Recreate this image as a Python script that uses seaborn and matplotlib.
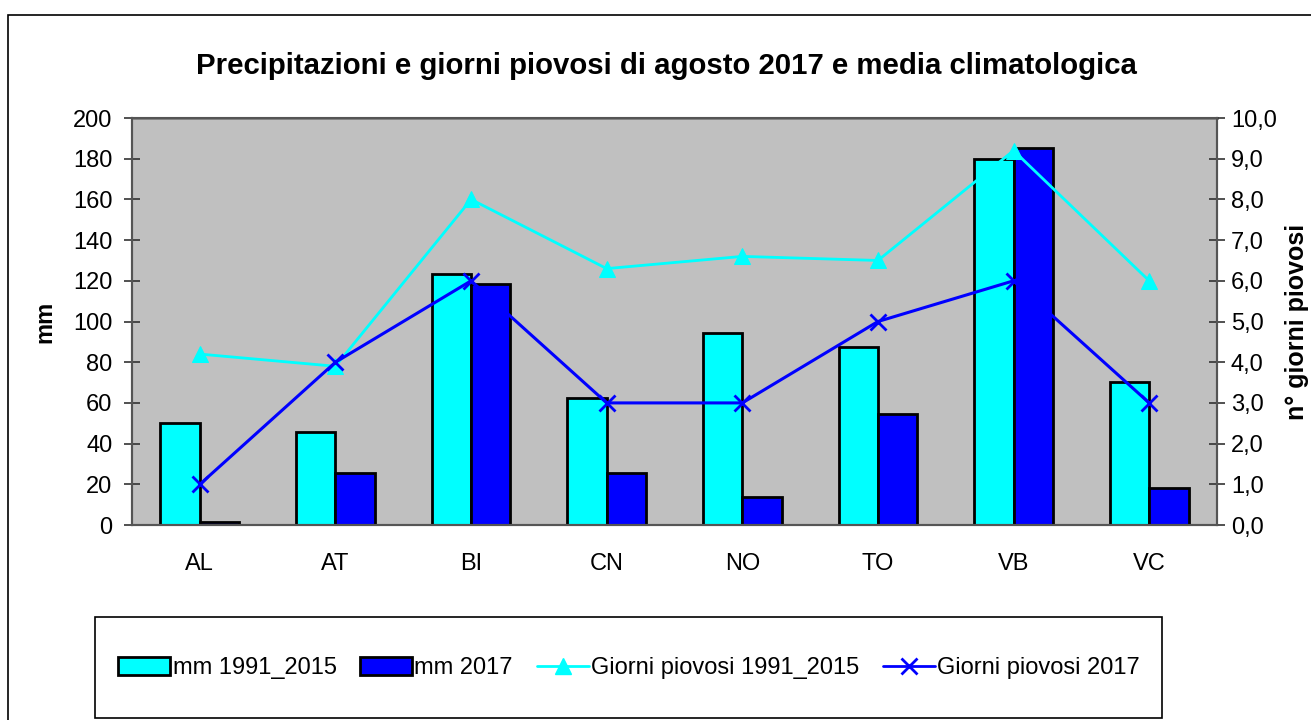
import numpy as np
import pandas as pd
import seaborn as sns
from matplotlib import pyplot as plt
from matplotlib.patches import Patch, Rectangle
from matplotlib.lines import Line2D

provinces = ['AL', 'AT', 'BI', 'CN', 'NO', 'TO', 'VB', 'VC']
mm_clima = [50.0, 45.9, 123.2, 62.6, 94.5, 87.6, 179.7, 70.1]
mm_2017 = [1.6, 25.4, 118.3, 25.4, 13.6, 54.4, 185.1, 18.0]
giorni_clima = [4.2, 3.9, 8.0, 6.3, 6.6, 6.5, 9.2, 6.0]
giorni_2017 = [1, 4, 6, 3, 3, 5, 6, 3]
series_names = ['mm 1991_2015', 'mm 2017', 'Giorni piovosi 1991_2015', 'Giorni piovosi 2017']

CYAN = '#00FFFF'
BLUE = '#0000FF'


def plot():
    sns.set_style('white')
    plt.rcParams['font.family'] = ['Liberation Sans', 'DejaVu Sans']
    plt.rcParams['text.color'] = 'black'
    plt.rcParams['axes.labelcolor'] = 'black'
    plt.rcParams['xtick.color'] = 'black'
    plt.rcParams['ytick.color'] = 'black'

    bars = pd.DataFrame({
        'prov': provinces * 2,
        'mm': mm_clima + mm_2017,
        'serie': [series_names[0]] * len(provinces) + [series_names[1]] * len(provinces),
    })

    fig = plt.figure(figsize=(13.11, 7.2), dpi=100)
    ax = fig.add_axes([0.1007, 0.2708, 0.8276, 0.5653])
    ax.set_facecolor('#C0C0C0')

    sns.barplot(data=bars, x='prov', y='mm', hue='serie', palette=[CYAN, BLUE],
                width=0.58, edgecolor='black', linewidth=2, saturation=1,
                legend=False, ax=ax, zorder=2)

    ax.set_ylim(0, 200)
    ax.set_xlim(-0.5, len(provinces) - 0.5)
    ax.set_yticks(np.arange(0, 201, 20))
    ax.set_xticks(range(len(provinces)))
    ax.set_xticklabels(provinces)
    ax.set_xticks(np.arange(-0.5, len(provinces), 1), minor=True)
    ax.tick_params(axis='x', which='major', length=0, pad=20, labelsize=17)
    ax.tick_params(axis='x', which='minor', length=7, width=1.2, direction='out', color='#333333')
    ax.tick_params(axis='y', length=12, width=1.2, direction='inout', labelsize=17, color='#333333', pad=8)
    ax.set_xlabel('')
    ax.set_ylabel('mm', fontsize=17, fontweight='bold', labelpad=12)

    ax2 = ax.twinx()
    x = np.arange(len(provinces))
    sns.lineplot(x=x, y=giorni_clima, color=CYAN, lw=2, marker='^', markersize=12,
                 markeredgecolor=CYAN, ax=ax2, zorder=3)
    sns.lineplot(x=x, y=giorni_2017, color=BLUE, lw=2.2, marker='x', markersize=12,
                 markeredgewidth=2, markeredgecolor=BLUE, ax=ax2, zorder=3)
    ax2.set_ylim(0, 10)
    ax2.set_yticks(np.arange(0, 10.1, 1))
    ax2.set_yticklabels([f'{v:.1f}'.replace('.', ',') for v in np.arange(0, 10.1, 1)])
    ax2.tick_params(axis='y', length=12, width=1.2, direction='inout', labelsize=17, color='#333333', pad=4)
    ax2.set_ylabel('n° giorni piovosi', fontsize=18, fontweight='bold', labelpad=6)
    ax2.set_xlim(-0.5, len(provinces) - 0.5)

    for a in (ax, ax2):
        for side in a.spines.values():
            side.set_color('#555555')
            side.set_linewidth(1.5)
    ax.spines['top'].set_color('#808080')
    ax.spines['top'].set_linewidth(2)

    fig.text(666 / 1311, 1 - 66 / 720, 'Precipitazioni e giorni piovosi di agosto 2017 e media climatologica',
             ha='center', va='center', fontsize=21.2, fontweight='bold')

    # outer chart frame
    fig.patches.append(Rectangle((8 / 1311, -0.01), 1.1, 1 - 15 / 720 + 0.01, transform=fig.transFigure,
                                 fill=False, edgecolor='black', lw=1.2))
    # legend frame
    fig.patches.append(Rectangle((95 / 1311, 2 / 720), 1067 / 1311, 101 / 720, transform=fig.transFigure,
                                 fill=False, edgecolor='black', lw=1.2))

    handles = [
        Patch(facecolor=CYAN, edgecolor='black', lw=2),
        Patch(facecolor=BLUE, edgecolor='black', lw=2),
        Line2D([], [], color=CYAN, lw=2, marker='^', markersize=11),
        Line2D([], [], color=BLUE, lw=2, marker='x', markersize=11, markeredgewidth=2),
    ]
    fig.legend(handles, series_names, loc='center', bbox_to_anchor=(629 / 1311, 1 - 668 / 720),
               ncol=4, frameon=False, fontsize=17, handlelength=2.2, handleheight=0.8,
               handletextpad=0.1, columnspacing=1.0)

    plt.savefig('out.png', dpi=100)


if __name__ == '__main__':
    plot()
